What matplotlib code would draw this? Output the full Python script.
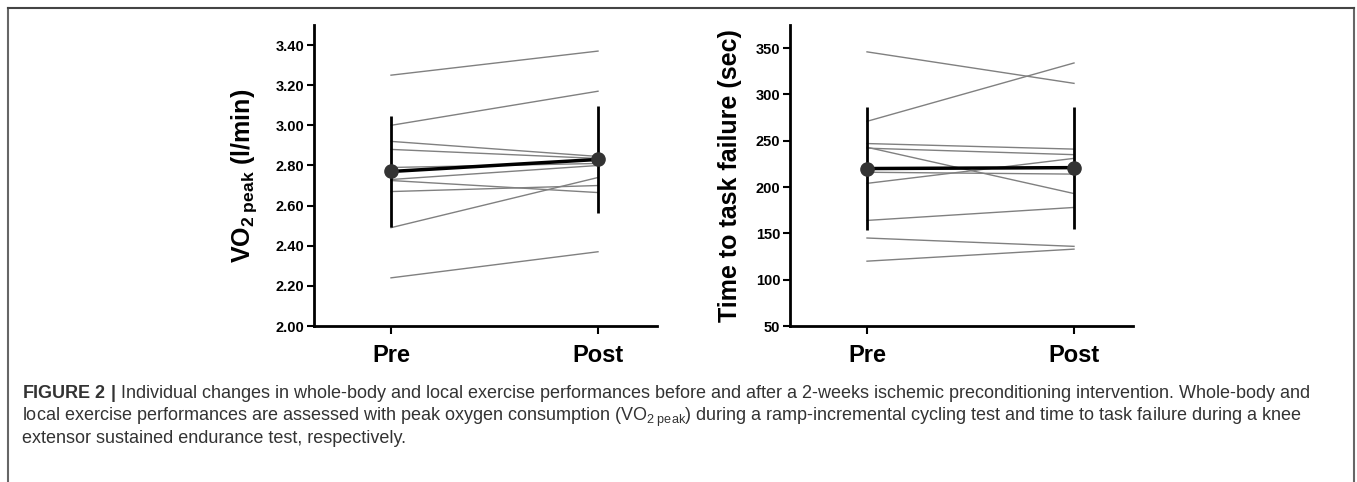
import matplotlib
matplotlib.use("Agg")
import matplotlib.pyplot as plt
from matplotlib.lines import Line2D

plt.rcParams['font.family'] = ['Liberation Sans', 'DejaVu Sans']
plt.rcParams['mathtext.fontset'] = 'custom'
plt.rcParams['mathtext.rm'] = 'Liberation Sans'
plt.rcParams['mathtext.bf'] = 'Liberation Sans:bold'
plt.rcParams['mathtext.it'] = 'Liberation Sans:italic'

# data
phases = ['Pre', 'Post']
vo2_pre = [3.25, 3.00, 2.92, 2.88, 2.79, 2.73, 2.725, 2.67, 2.49, 2.24]
vo2_post = [3.37, 3.17, 2.845, 2.835, 2.81, 2.80, 2.665, 2.70, 2.74, 2.37]
vo2_mean = [2.77, 2.83]
vo2_sd = [0.275, 0.268]

ttf_pre = [346, 271, 247, 243, 242, 216, 204, 164, 145, 120]
ttf_post = [312, 334, 241, 193, 235, 214, 231, 178, 136, 133]
ttf_mean = [220, 221]
ttf_sd = [66, 66]

W, H = 1357, 482
fig = plt.figure(figsize=(W / 100, H / 100), dpi=100)

def panel(rect, pre, post, mean, sd, ylim, ticks, fmt, ylabel, lpad):
    ax = fig.add_axes(rect)
    x = [0, 1]
    for a, b in zip(pre, post):
        ax.plot(x, [a, b], color='#808080', lw=1.0, zorder=2)
    ax.errorbar(x, mean, yerr=sd, fmt='none', ecolor='black', elinewidth=2.0,
                capsize=0, zorder=3)
    ax.plot(x, mean, color='black', lw=2.5, marker='o', markersize=9.5,
            markerfacecolor='#333333', markeredgecolor='#333333', zorder=4)
    ax.set_xlim(-0.372, 1.285)
    ax.set_ylim(*ylim)
    ax.set_xticks(x)
    ax.set_xticklabels(phases, fontsize=17, fontweight='bold')
    ax.set_yticks(ticks)
    ax.set_yticklabels([fmt.format(t) for t in ticks], fontsize=10.5, fontweight='bold')
    for s in ['top', 'right']:
        ax.spines[s].set_visible(False)
    for s in ['left', 'bottom']:
        ax.spines[s].set_linewidth(2.0)
    ax.tick_params(axis='y', length=5, width=1.5, pad=2)
    ax.tick_params(axis='x', length=6, width=1.5, pad=7)
    ax.set_ylabel(ylabel, fontsize=18, fontweight='bold', labelpad=lpad)
    return ax

ax1 = panel([314 / W, 1 - 326 / H, 343 / W, 301 / H], vo2_pre, vo2_post,
            vo2_mean, vo2_sd, (2.0, 3.5), [2.0, 2.2, 2.4, 2.6, 2.8, 3.0, 3.2, 3.4],
            '{:.2f}', r'$\mathbf{VO_{2\ peak}}$ (l/min)', 12)
ax2 = panel([790 / W, 1 - 326 / H, 343 / W, 301 / H], ttf_pre, ttf_post,
            ttf_mean, ttf_sd, (50, 375), [50, 100, 150, 200, 250, 300, 350],
            '{:.0f}', 'Time to task failure (sec)', 10)

# frame around the figure
fc = '#666666'
fig.add_artist(Line2D([8 / W, 8 / W], [0, 1 - 8 / H], color=fc, lw=1.5))
fig.add_artist(Line2D([1354 / W, 1354 / W], [0, 1 - 8 / H], color=fc, lw=1.5))
fig.add_artist(Line2D([8 / W, 1354 / W], [1 - 8 / H, 1 - 8 / H], color='#444444', lw=1.5))

caption = [
    r"$\mathbf{FIGURE\ 2\ |}$ Individual changes in whole-body and local exercise performances before and after a 2-weeks ischemic preconditioning intervention. Whole-body and",
    r"local exercise performances are assessed with peak oxygen consumption (VO$_{\mathrm{2\ peak}}$) during a ramp-incremental cycling test and time to task failure during a knee",
    "extensor sustained endurance test, respectively.",
]
for i, line in enumerate(caption):
    fig.text(22 / W, 1 - (398 + i * 22.7) / H, line, fontsize=13, color='#333333',
             va='baseline', ha='left')

fig.savefig('out.png', dpi=100)
